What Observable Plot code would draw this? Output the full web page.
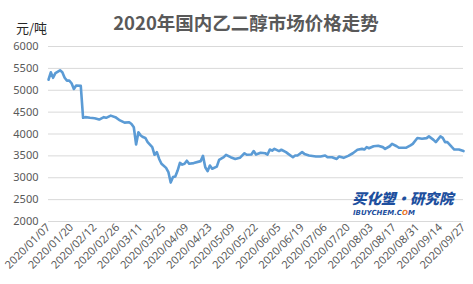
<!DOCTYPE html>
<html>
<head>
<meta charset="utf-8">
<script src="https://cdn.jsdelivr.net/npm/d3@7"></script>
<script src="https://cdn.jsdelivr.net/npm/@observablehq/plot@0.6"></script>
<style>
  html, body { margin: 0; padding: 0; background: #fff; }
  #wrap { position: relative; width: 473px; height: 284px; overflow: hidden; font-family: "Noto Sans CJK SC", "Noto Sans", sans-serif; }
  #title { position: absolute; left: 0; width: 492px; top: 10px; text-align: center; font-size: 18.5px; font-weight: bold; color: #595959; line-height: 24px; }
  #unit { position: absolute; left: 16px; top: 19px; font-size: 13px; color: #262626; line-height: 18px; }
  #wm1 { position: absolute; left: 352px; top: 191px; font-size: 14.5px; font-weight: 900; font-style: italic; color: #1d4f9e; line-height: 14px; letter-spacing: 0px; }
  #wm2 { position: absolute; left: 353px; top: 210px; font-family: "DejaVu Sans", sans-serif; font-size: 7px; font-weight: bold; font-style: italic; color: #1d4f9e; line-height: 7px; }
  #wm2 span { color: #e8742a; }
</style>
</head>
<body>
<div id="wrap">
  <div id="chart"></div>
  <div id="title">2020年国内乙二醇市场价格走势</div>
  <div id="unit">元/吨</div>
  <div id="wm1">买化塑·研究院</div>
  <div id="wm2">IBUYCHEM.C<span>O</span>M</div>
</div>
<script>
// Tick labels (every 10 trading days)
const tickLabels = ["2020/01/07","2020/01/20","2020/02/12","2020/02/26","2020/03/11","2020/03/25","2020/04/09","2020/04/23","2020/05/09","2020/05/22","2020/06/05","2020/06/19","2020/07/06","2020/07/20","2020/08/03","2020/08/17","2020/08/31","2020/09/14","2020/09/27"];
const yTicks = [2000, 2500, 3000, 3500, 4000, 4500, 5000, 5500, 6000];

// Trading-day index of each reading, and price (元/吨)
const day = [0,1,2,3,5,6,7,8,9,10,11,12,14,15,16,18,20,22,24,25,27,29,31,33,35,36,37,38,39,40,41,42,43,45,46,47,48,49,51,52,53,54,55,56,57,58,59,60,61,63,66,67,68,69,70,71,73,74,76,77,79,81,83,85,86,88,89,90,92,94,95,96,97,98,100,101,103,104,106,107,108,110,111,113,116,118,120,121,123,125,126,128,130,132,134,136,137,138,139,141,143,145,146,148,149,151,152,155,157,158,160,162,164,165,167,168,170,171,172,173,175,176,178,180];
const price = [5240,5410,5285,5390,5455,5410,5285,5220,5220,5160,5030,5110,5100,4370,4385,4370,4360,4330,4385,4370,4420,4385,4310,4260,4270,4230,4155,3760,4040,3965,3930,3910,3815,3700,3525,3585,3430,3320,3225,3130,2890,3015,3030,3165,3340,3300,3320,3390,3320,3335,3380,3500,3240,3150,3280,3205,3255,3410,3470,3525,3470,3430,3455,3560,3525,3530,3610,3530,3570,3560,3530,3645,3620,3660,3610,3640,3585,3545,3470,3510,3510,3585,3545,3510,3485,3485,3510,3470,3470,3430,3485,3455,3500,3560,3640,3660,3645,3700,3675,3720,3730,3700,3660,3720,3775,3720,3685,3685,3740,3775,3910,3890,3905,3945,3865,3815,3945,3910,3815,3815,3700,3645,3645,3610];

const data = day.map((d, i) => ({day: d, price: price[i]}));

const chart = Plot.plot({
  width: 473,
  height: 284,
  marginLeft: 48,
  marginRight: 10,
  marginTop: 46,
  marginBottom: 63,
  style: {fontFamily: "'Noto Sans', 'DejaVu Sans', sans-serif", fontSize: "11px", color: "#595959", background: "#fff"},
  x: {domain: [0, 180], label: null},
  y: {domain: [2000, 6000], label: null},
  marks: [
    Plot.gridY(yTicks, {stroke: "#d9d9d9", strokeOpacity: 1, strokeWidth: 1}),
    Plot.axisY(yTicks, {tickSize: 0, tickPadding: 10, tickFormat: d => String(d), fill: "#595959", fontSize: 11, label: null}),
    Plot.axisX(d3.range(0, 181, 10), {tickSize: 0, tickPadding: 4, tickRotate: -45, tickFormat: (d, i) => tickLabels[i], fill: "#595959", fontSize: 11, label: null}),
    Plot.line(data, {x: "day", y: "price", stroke: "#5b9bd5", strokeWidth: 2.6, strokeLinejoin: "round", strokeLinecap: "round"})
  ]
});
document.getElementById("chart").appendChild(chart);
</script>
</body>
</html>
